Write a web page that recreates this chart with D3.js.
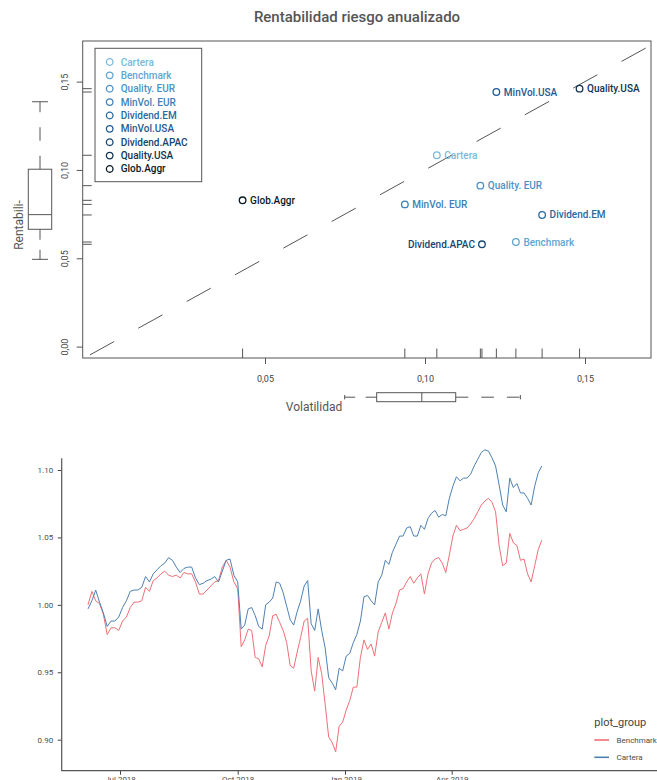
<!DOCTYPE html>
<html>
<head>
<meta charset="utf-8">
<script src="https://cdn.jsdelivr.net/npm/d3@7"></script>
<style>
  body { margin: 0; background: #fff; }
  svg { display: block; font-family: Roboto, "Noto Sans", sans-serif; }
</style>
</head>
<body>
<script>
// ---- datos: gráfico de riesgo / rentabilidad ----
const activos = ["Cartera", "Benchmark", "Quality. EUR", "MinVol. EUR", "Dividend.EM",
                 "MinVol.USA", "Dividend.APAC", "Quality.USA", "Glob.Aggr"];
const volatilidad = [0.1037, 0.1284, 0.1173, 0.0937, 0.1366, 0.1223, 0.1178, 0.1483, 0.0430];
const rentabilidad = [0.1083, 0.0592, 0.0911, 0.0805, 0.0745, 0.1441, 0.0579, 0.1460, 0.0828];
const coloresActivos = ["#78b9dc", "#5fa5d2", "#4b91c8", "#3c80b9", "#2869a0",
                        "#1e5a91", "#144673", "#0f3250", "#081923"];
// estadisticos de los boxplots marginales [min, q1, mediana, q3, max]
const cajaVol = [0.0749, 0.0849, 0.0990, 0.1096, 0.1298];
const cajaRent = [0.0494, 0.0664, 0.0747, 0.1004, 0.1386];
const ticksVol = [0.05, 0.10, 0.15];
const ticksRent = [0.00, 0.05, 0.10, 0.15];

// ---- datos: evolución (muestra cada 3 días desde 2018-06-06) ----
const inicioSerie = new Date(2018, 5, 6);
const finSerie = new Date(2019, 5, 17);
const cartera = [
  0.997, 1.003, 1.011, 1.002, 0.994, 0.984, 0.988, 0.988, 0.991, 0.998,
  1.003, 1.010, 1.011, 1.011, 1.013, 1.021, 1.017, 1.023, 1.026, 1.029,
  1.031, 1.035, 1.033, 1.028, 1.024, 1.027, 1.028, 1.028, 1.020, 1.015,
  1.016, 1.018, 1.019, 1.021, 1.017, 1.025, 1.033, 1.034, 1.022, 1.017,
  0.982, 0.985, 0.997, 0.998, 0.992, 0.984, 0.982, 1.000, 1.002, 1.005,
  1.017, 1.016, 1.009, 0.999, 0.989, 0.985, 0.995, 1.003, 1.014, 1.018,
  0.986, 0.981, 0.997, 0.981, 0.968, 0.946, 0.942, 0.937, 0.953, 0.951,
  0.962, 0.964, 0.972, 0.978, 0.988, 1.006, 1.007, 1.003, 1.000, 1.017,
  1.022, 1.033, 1.030, 1.039, 1.045, 1.051, 1.051, 1.057, 1.058, 1.051,
  1.051, 1.059, 1.056, 1.064, 1.068, 1.070, 1.065, 1.067, 1.066, 1.079,
  1.088, 1.095, 1.092, 1.094, 1.094, 1.097, 1.103, 1.108, 1.113, 1.115,
  1.114, 1.109, 1.103, 1.089, 1.074, 1.069, 1.094, 1.087, 1.090, 1.083,
  1.083, 1.079, 1.074, 1.088, 1.098, 1.103
];
const benchmark = [
  1.000, 1.010, 1.003, 1.001, 0.993, 0.978, 0.983, 0.983, 0.981, 0.988,
  0.991, 0.998, 1.002, 1.002, 1.003, 1.013, 1.010, 1.018, 1.020, 1.023,
  1.025, 1.022, 1.021, 1.022, 1.020, 1.024, 1.023, 1.023, 1.017, 1.008,
  1.008, 1.011, 1.014, 1.017, 1.018, 1.028, 1.033, 1.028, 1.017, 1.012,
  0.969, 0.974, 0.982, 0.981, 0.961, 0.960, 0.954, 0.970, 0.977, 0.992,
  0.993, 0.987, 0.981, 0.972, 0.955, 0.953, 0.965, 0.976, 0.988, 0.990,
  0.951, 0.936, 0.961, 0.949, 0.926, 0.902, 0.898, 0.891, 0.910, 0.913,
  0.922, 0.929, 0.939, 0.939, 0.961, 0.974, 0.967, 0.971, 0.962, 0.980,
  0.987, 0.994, 0.982, 0.994, 1.001, 1.011, 1.012, 1.017, 1.021, 1.016,
  1.020, 1.023, 1.008, 1.023, 1.031, 1.034, 1.035, 1.031, 1.024, 1.037,
  1.051, 1.059, 1.055, 1.056, 1.057, 1.060, 1.064, 1.069, 1.074, 1.077,
  1.079, 1.076, 1.069, 1.044, 1.029, 1.031, 1.053, 1.046, 1.044, 1.033,
  1.034, 1.023, 1.017, 1.029, 1.041, 1.048
];
const grupos = ["Benchmark", "Cartera"];
const coloresGrupos = ["#ef6f77", "#4f80b2"];
const ticksY2 = [0.90, 0.95, 1.00, 1.05, 1.10];
const ticksFechas = [new Date(2018, 6, 1), new Date(2018, 9, 1), new Date(2019, 0, 1), new Date(2019, 3, 1)];

const gris = "#555";
const svg = d3.select("body").append("svg").attr("width", 657).attr("height", 780);

// =================== gráfico 1 ===================
const marco = {x0: 82.7, x1: 651, y0: 41, y1: 358};
const xT = d3.scaleLinear().domain([0.05, 0.15]).range([265, 585]);
const yT = d3.scaleLinear().domain([0, 0.15]).range([346.6, 81.6]);
const coma = d => d3.format(".2f")(d).replace(".", ",");

svg.append("text")
    .attr("x", 357).attr("y", 22)
    .attr("text-anchor", "middle")
    .attr("font-size", 15).attr("font-weight", 500)
    .attr("fill", gris)
    .text("Rentabilidad riesgo anualizado");

svg.append("defs").append("clipPath").attr("id", "clip-marco")
  .append("rect")
    .attr("x", marco.x0).attr("y", marco.y0)
    .attr("width", marco.x1 - marco.x0).attr("height", marco.y1 - marco.y0);

// ejes
const ejeX = svg.append("g")
    .attr("transform", `translate(0,${marco.y1})`)
    .call(d3.axisBottom(xT).tickValues(ticksVol).tickSize(6).tickPadding(12).tickFormat(coma));
ejeX.select(".domain").remove();
ejeX.selectAll("line").attr("stroke", gris);
ejeX.selectAll("text").attr("font-size", 9).attr("fill", "#444").attr("font-family", "Roboto");

const ejeY = svg.append("g")
    .attr("transform", `translate(${marco.x0},0)`)
    .call(d3.axisLeft(yT).tickValues(ticksRent).tickSize(6).tickFormat(coma));
ejeY.select(".domain").remove();
ejeY.selectAll("line").attr("stroke", gris);
ejeY.selectAll("text")
    .attr("transform", "rotate(-90)")
    .attr("x", 0).attr("y", -14.5).attr("dy", 0)
    .attr("text-anchor", "middle")
    .attr("font-size", 9).attr("fill", "#444").attr("font-family", "Roboto");

svg.append("rect")
    .attr("x", marco.x0).attr("y", marco.y0)
    .attr("width", marco.x1 - marco.x0).attr("height", marco.y1 - marco.y0)
    .attr("fill", "none").attr("stroke", gris).attr("stroke-width", 1);

// linea y = x
const t0 = xT.invert(90), t1 = 0.2;
svg.append("line")
    .attr("clip-path", "url(#clip-marco)")
    .attr("x1", xT(t0)).attr("y1", yT(t0))
    .attr("x2", xT(t1)).attr("y2", yT(t1))
    .attr("stroke", gris).attr("stroke-width", 1)
    .attr("stroke-dasharray", "27.6,27.6");

// rugs
svg.append("g").selectAll("line").data(volatilidad).join("line")
    .attr("x1", d => xT(d)).attr("x2", d => xT(d))
    .attr("y1", marco.y1).attr("y2", marco.y1 - 9.5)
    .attr("stroke", gris);
svg.append("g").selectAll("line").data(rentabilidad).join("line")
    .attr("y1", d => yT(d)).attr("y2", d => yT(d))
    .attr("x1", marco.x0).attr("x2", marco.x0 + 9)
    .attr("stroke", gris);

// puntos y etiquetas
const puntos = activos.map((n, i) => ({nombre: n, x: volatilidad[i], y: rentabilidad[i], color: coloresActivos[i]}));
const aIzquierda = new Set(["Dividend.APAC"]);
const gp = svg.append("g");
gp.selectAll("circle").data(puntos).join("circle")
    .attr("cx", d => xT(d.x)).attr("cy", d => yT(d.y)).attr("r", 3.3)
    .attr("fill", "none").attr("stroke", d => d.color).attr("stroke-width", 1.3);
gp.selectAll("text").data(puntos).join("text")
    .attr("x", d => xT(d.x) + (aIzquierda.has(d.nombre) ? -7 : 7.5))
    .attr("y", d => yT(d.y))
    .attr("dy", "0.35em")
    .attr("text-anchor", d => aIzquierda.has(d.nombre) ? "end" : "start")
    .attr("font-size", 10).attr("font-weight", 500)
    .attr("fill", d => d.color)
    .text(d => d.nombre);

// leyenda
const ley = svg.append("g");
ley.append("rect")
    .attr("x", 95).attr("y", 48.3).attr("width", 106.7).attr("height", 133.4)
    .attr("fill", "#fff").attr("stroke", gris);
const filas = ley.selectAll("g").data(puntos).join("g")
    .attr("transform", (d, i) => `translate(109.7,${62 + i * 13.37})`);
filas.append("circle").attr("r", 3.3).attr("fill", "none")
    .attr("stroke", d => d.color).attr("stroke-width", 1.3);
filas.append("text").attr("x", 11).attr("dy", "0.35em")
    .attr("font-size", 10).attr("font-weight", 500)
    .attr("fill", d => d.color).text(d => d.nombre);

// boxplot marginal de volatilidad (abajo)
const bx = svg.append("g").attr("stroke", gris).attr("fill", "none");
const cy = 397.2, hh = 4.5;
bx.append("rect").attr("x", xT(cajaVol[1])).attr("y", cy - hh)
    .attr("width", xT(cajaVol[3]) - xT(cajaVol[1])).attr("height", 2 * hh).attr("fill", "#fff");
bx.append("line").attr("x1", xT(cajaVol[2])).attr("x2", xT(cajaVol[2])).attr("y1", cy - hh).attr("y2", cy + hh);
bx.append("line").attr("x1", xT(cajaVol[1])).attr("x2", xT(cajaVol[0])).attr("y1", cy).attr("y2", cy)
    .attr("stroke-dasharray", "11,10.5");
bx.append("line").attr("x1", xT(cajaVol[3])).attr("x2", xT(cajaVol[4])).attr("y1", cy).attr("y2", cy)
    .attr("stroke-dasharray", "12.6,13");
[cajaVol[0], cajaVol[4]].forEach(v => {
  bx.append("line").attr("x1", xT(v)).attr("x2", xT(v)).attr("y1", cy - 2.2).attr("y2", cy + 2.2);
});
svg.append("text").attr("x", 314).attr("y", 411).attr("text-anchor", "middle")
    .attr("font-size", 12).attr("fill", gris).text("Volatilidad");

// boxplot marginal de rentabilidad (izquierda)
const by = svg.append("g").attr("stroke", gris).attr("fill", "none");
const cx = 40, hw = 11.7;
by.append("rect").attr("x", cx - hw).attr("y", yT(cajaRent[3]))
    .attr("width", 2 * hw).attr("height", yT(cajaRent[1]) - yT(cajaRent[3])).attr("fill", "#fff");
by.append("line").attr("x1", cx - hw).attr("x2", cx + hw).attr("y1", yT(cajaRent[2])).attr("y2", yT(cajaRent[2]));
by.append("line").attr("x1", cx).attr("x2", cx).attr("y1", yT(cajaRent[3])).attr("y2", yT(cajaRent[4]))
    .attr("stroke-dasharray", "13.5,15");
by.append("line").attr("x1", cx).attr("x2", cx).attr("y1", yT(cajaRent[1])).attr("y2", yT(cajaRent[0]))
    .attr("stroke-dasharray", "10.5,10");
[cajaRent[0], cajaRent[4]].forEach(v => {
  by.append("line").attr("x1", cx - 8).attr("x2", cx + 8).attr("y1", yT(v)).attr("y2", yT(v));
});
svg.append("text").attr("transform", "translate(22.5,225) rotate(-90)")
    .attr("text-anchor", "middle").attr("font-size", 12).attr("fill", gris).text("Rentabili-");

// =================== gráfico 2 ===================
const fechas = d3.timeDay.range(inicioSerie, finSerie, 3);
const series = grupos.map((g, i) => ({
  grupo: g,
  color: coloresGrupos[i],
  valores: (g === "Cartera" ? cartera : benchmark).map((v, j) => ({fecha: fechas[j], v}))
}));

const xB = d3.scaleTime().domain(ticksFechas).range([120, 237.7, 345, 451.7]);
const yB = d3.scaleLinear().domain([0.90, 1.10]).range([739.7, 470]);
const panel = {x0: 61.7, y0: 458.3, y1: 770.7, x1: 657};

const linea = d3.line().x(d => xB(d.fecha)).y(d => yB(d.v));
svg.append("g").selectAll("path").data(series).join("path")
    .attr("d", d => linea(d.valores))
    .attr("fill", "none").attr("stroke", d => d.color).attr("stroke-width", 1)
    .attr("stroke-linejoin", "round");

const ejeY2 = svg.append("g").attr("transform", `translate(${panel.x0},0)`)
    .call(d3.axisLeft(yB).tickValues(ticksY2).tickSize(4).tickPadding(4.5).tickFormat(d3.format(".2f")));
ejeY2.select(".domain").remove();
ejeY2.selectAll("line").attr("stroke", "#444");
ejeY2.selectAll("text").attr("font-size", 8).attr("fill", "#4d4d4d").attr("font-family", "Roboto");

const ejeX2 = svg.append("g").attr("transform", `translate(0,${panel.y1})`)
    .call(d3.axisBottom(xB).tickValues(ticksFechas).tickSize(4).tickPadding(2).tickFormat(d3.timeFormat("%b %Y")));
ejeX2.select(".domain").remove();
ejeX2.selectAll("line").attr("stroke", "#444");
ejeX2.selectAll("text").attr("font-size", 8).attr("fill", "#4d4d4d").attr("font-family", "Roboto");

svg.append("path")
    .attr("d", `M${panel.x0},${panel.y0}V${panel.y1}H${panel.x1}`)
    .attr("fill", "none").attr("stroke", "#555").attr("stroke-width", 1.2);

// leyenda
svg.append("text").attr("x", 594.3).attr("y", 726)
    .attr("font-size", 11).attr("fill", "#444").text("plot_group");
const ley2 = svg.append("g").selectAll("g").data(series).join("g")
    .attr("transform", (d, i) => `translate(594.3,${740 + i * 17.3})`);
ley2.append("line").attr("x2", 14.7).attr("stroke", d => d.color).attr("stroke-width", 1.6);
ley2.append("text").attr("x", 22.2).attr("dy", "0.35em")
    .attr("font-size", 8).attr("fill", "#4d4d4d").text(d => d.grupo);
</script>
</body>
</html>
